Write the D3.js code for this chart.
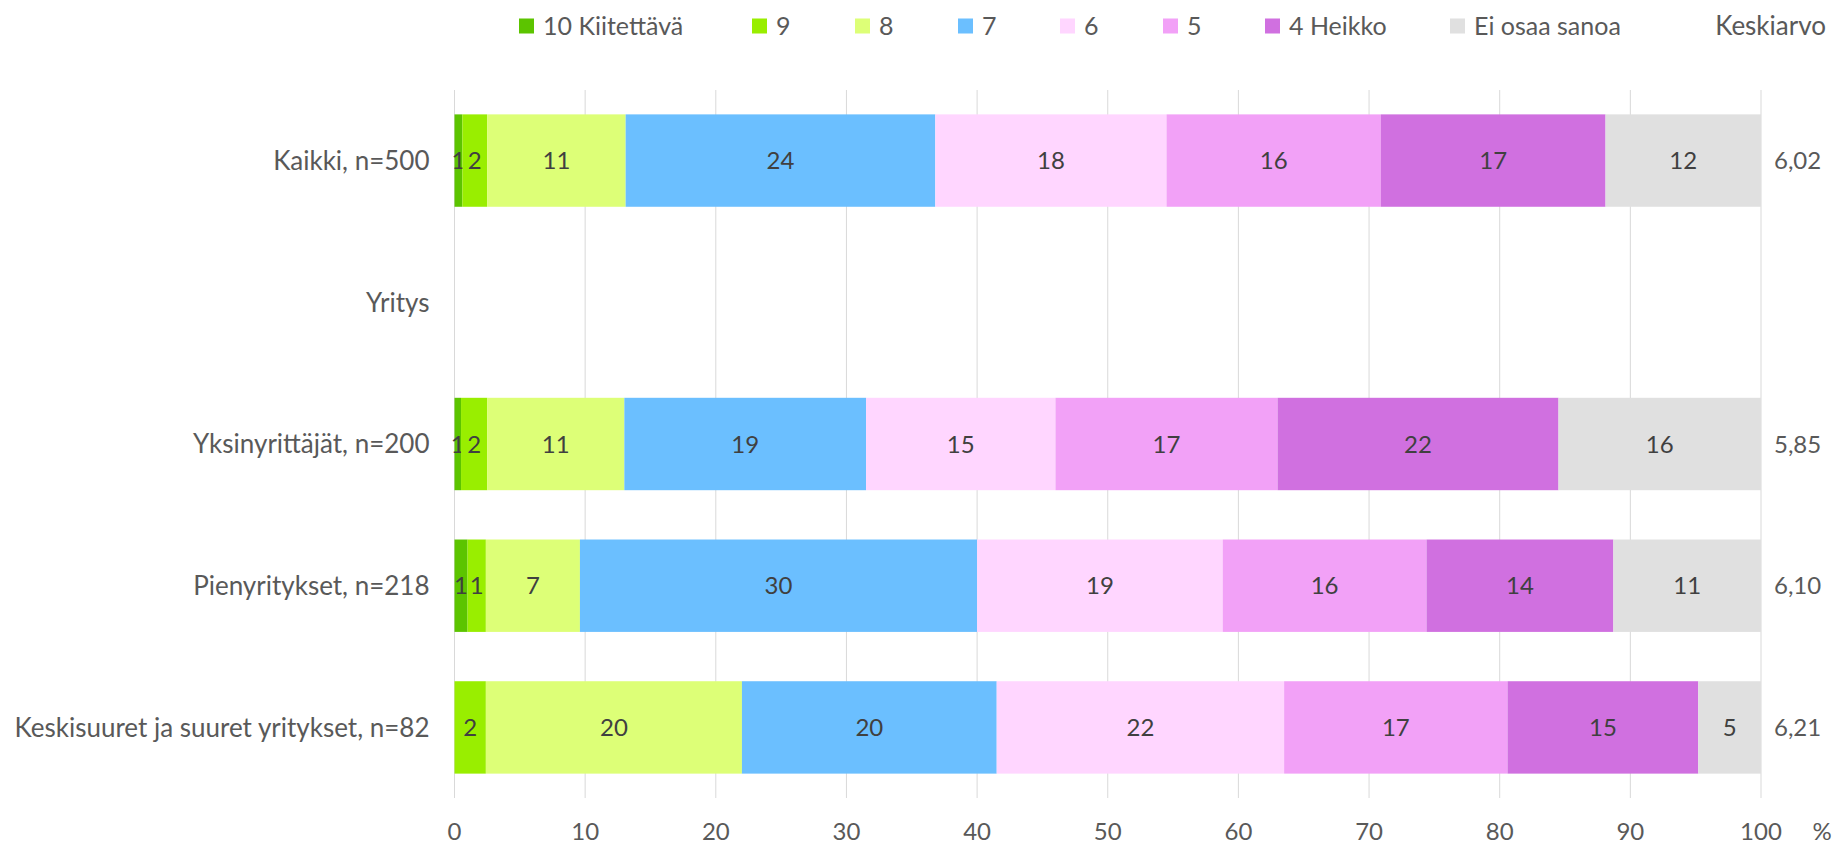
<!DOCTYPE html>
<html>
<head>
<meta charset="utf-8">
<script src="https://cdn.jsdelivr.net/npm/d3@7"></script>
<style>
  body { margin: 0; background: #fff; }
  text { font-family: Lato, "Liberation Sans", sans-serif; }
</style>
</head>
<body>
<script>
// categories (Yritys is only a group heading, no bar)
const categories = ["Kaikki, n=500", "Yritys", "Yksinyrittäjät, n=200", "Pienyritykset, n=218", "Keskisuuret ja suuret yritykset, n=82"];
const seriesNames = ["10 Kiitettävä", "9", "8", "7", "6", "5", "4 Heikko", "Ei osaa sanoa"];
const seriesColors = ["#5cc400", "#99ee00", "#ddff77", "#6bbfff", "#ffd6ff", "#f2a1f7", "#d070e0", "#e0e0e0"];

// shares in %, one value per series (same order as seriesNames)
const kaikki         = [0.6, 1.9, 10.6, 23.7, 17.7, 16.4, 17.2, 11.9];
const yritys         = null;
const yksinyrittajat = [0.5, 2.0, 10.5, 18.5, 14.5, 17.0, 21.5, 15.5];
const pienyritykset  = [1.0, 1.4, 7.2, 30.4, 18.8, 15.6, 14.3, 11.3];
const keskisuuret    = [0, 2.4, 19.6, 19.5, 22.0, 17.1, 14.6, 4.8];

const averages = ["6,02", "", "5,85", "6,10", "6,21"];
const xTicks = [0, 10, 20, 30, 40, 50, 60, 70, 80, 90, 100];

const rowValues = [kaikki, yritys, yksinyrittajat, pienyritykset, keskisuuret];

const width = 1836, height = 845;
const margin = {top: 90, right: 75, bottom: 47, left: 454.5};

const svg = d3.select("body")
    .append("svg")
    .attr("width", width)
    .attr("height", height);

const xScale = d3.scaleLinear()
    .domain([0, 100])
    .range([margin.left, width - margin.right]);

const yScale = d3.scaleBand()
    .domain(categories)
    .range([margin.top, height - margin.bottom])
    .paddingInner(0.348)
    .paddingOuter(0.172);

// grid lines
svg.append("g")
    .selectAll("line")
    .data(xTicks)
    .enter()
    .append("line")
    .attr("x1", function(d){ return xScale(d); })
    .attr("x2", function(d){ return xScale(d); })
    .attr("y1", margin.top)
    .attr("y2", height - margin.bottom)
    .attr("stroke", "#d9d9d9")
    .attr("stroke-width", 1);

// build table for the stack
const table = [];
for(let i=0; i<categories.length; i++){
    const row = {cat: categories[i]};
    for(let j=0; j<seriesNames.length; j++){
        row[seriesNames[j]] = rowValues[i] ? rowValues[i][j] : 0;
    }
    table.push(row);
}
const stacked = d3.stack().keys(seriesNames)(table);

const layers = svg.append("g")
    .selectAll("g")
    .data(stacked)
    .enter()
    .append("g")
    .attr("fill", function(d, i){ return seriesColors[i]; });

layers.selectAll("rect")
    .data(function(d){ return d.filter(function(p){ return p[1] - p[0] > 0; }); })
    .enter()
    .append("rect")
    .attr("x", function(d){ return xScale(d[0]); })
    .attr("y", function(d){ return yScale(d.data.cat); })
    .attr("width", function(d){ return xScale(d[1]) - xScale(d[0]); })
    .attr("height", yScale.bandwidth());

// value labels
layers.selectAll("text")
    .data(function(d){ return d.filter(function(p){ return p[1] - p[0] > 0; }); })
    .enter()
    .append("text")
    .attr("x", function(d){ return (xScale(d[0]) + xScale(d[1])) / 2; })
    .attr("y", function(d){ return yScale(d.data.cat) + yScale.bandwidth() / 2; })
    .attr("dy", "0.36em")
    .attr("text-anchor", "middle")
    .attr("font-size", "24px")
    .attr("fill", "#404040")
    .text(function(d){ return Math.round(d[1] - d[0]); });

// category labels
svg.append("g")
    .selectAll("text")
    .data(categories)
    .enter()
    .append("text")
    .attr("x", margin.left - 25)
    .attr("y", function(d){ return yScale(d) + yScale.bandwidth() / 2; })
    .attr("dy", "0.36em")
    .attr("text-anchor", "end")
    .attr("font-size", "26px")
    .attr("fill", "#595959")
    .text(function(d){ return d; });

// averages column
svg.append("g")
    .selectAll("text")
    .data(categories)
    .enter()
    .append("text")
    .attr("x", 1774)
    .attr("y", function(d){ return yScale(d) + yScale.bandwidth() / 2; })
    .attr("dy", "0.36em")
    .attr("font-size", "24px")
    .attr("fill", "#595959")
    .text(function(d, i){ return averages[i]; });

// x axis labels
svg.append("g")
    .selectAll("text")
    .data(xTicks)
    .enter()
    .append("text")
    .attr("x", function(d){ return xScale(d); })
    .attr("y", 831)
    .attr("dy", "0.36em")
    .attr("text-anchor", "middle")
    .attr("font-size", "24px")
    .attr("fill", "#595959")
    .text(function(d){ return d; });

svg.append("text")
    .attr("x", 1822)
    .attr("y", 831)
    .attr("dy", "0.36em")
    .attr("text-anchor", "middle")
    .attr("font-size", "24px")
    .attr("fill", "#595959")
    .text("%");

// legend
const legendY = 26;
const legendX = [519, 752, 855, 958, 1060, 1163, 1265, 1450];
seriesNames.forEach(function(name, i){
    svg.append("rect")
        .attr("x", legendX[i])
        .attr("y", legendY - 7.5)
        .attr("width", 15)
        .attr("height", 15)
        .attr("fill", seriesColors[i]);
    svg.append("text")
        .attr("x", legendX[i] + 24)
        .attr("y", legendY)
        .attr("dy", "0.36em")
        .attr("font-size", "25px")
        .attr("fill", "#595959")
        .text(name);
});

svg.append("text")
    .attr("x", 1826)
    .attr("y", legendY)
    .attr("dy", "0.36em")
    .attr("text-anchor", "end")
    .attr("font-size", "26px")
    .attr("fill", "#595959")
    .text("Keskiarvo");
</script>
</body>
</html>
